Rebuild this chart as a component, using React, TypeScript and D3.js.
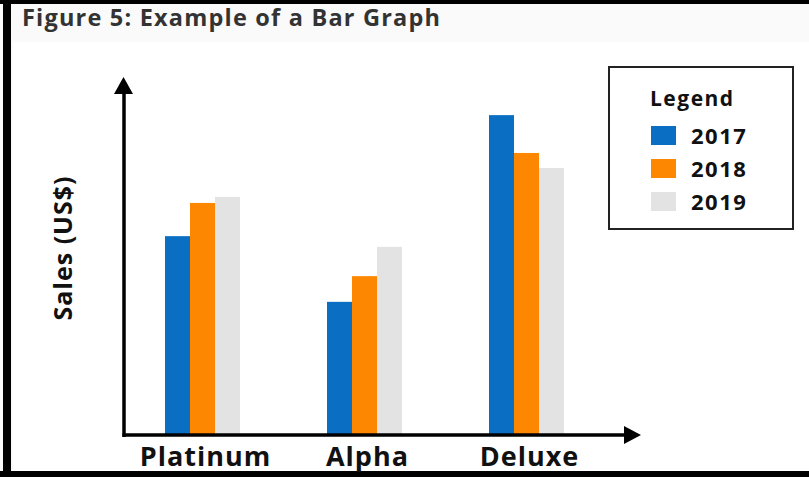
import React from "react";
import * as d3 from "d3";

const categories = ["Platinum", "Alpha", "Deluxe"];
const years = ["2017", "2018", "2019"];
const sales2017 = [55.7, 37.3, 89.6];
const sales2018 = [65, 44.5, 79];
const sales2019 = [66.7, 52.7, 74.8];
const seriesColors = ["#0a6fc2", "#fd8700", "#e3e3e3"];

const W = 809;
const H = 477;

export default function App() {
  const series = [sales2017, sales2018, sales2019];
  const x0 = d3.scaleBand<string>().domain(categories).range([124, 605]).paddingInner(0.537).paddingOuter(0.253);
  const x1 = d3.scaleBand<string>().domain(years).range([0, x0.bandwidth()]);
  const y = d3.scaleLinear().domain([0, 100]).range([435, 78]);
  const font = "'Open Sans', 'Noto Sans', sans-serif";

  return (
    <svg width={W} height={H} style={{ position: "absolute", left: 0, top: 0, background: "#fff" }}>
      <rect x={0} y={0} width={W} height={H} fill="#fafafa" />
      <rect x={13} y={42} width={W - 13} height={H - 42} fill="#ffffff" />
      {/* frame */}
      <rect x={0} y={0} width={W} height={4} fill="#000" />
      <rect x={3} y={0} width={8} height={H} fill="#000" />
      <rect x={0} y={471} width={W} height={6} fill="#000" />

      <text x={22} y={26} fontFamily={font} fontWeight={700} fontSize={23.5} letterSpacing={1.2} fill="#333">
        Figure 5: Example of a Bar Graph
      </text>

      {categories.map((c, i) =>
        years.map((yr, j) => (
          <rect
            key={c + yr}
            x={(x0(c) as number) + (x1(yr) as number)}
            y={y(series[j][i])}
            width={x1.bandwidth()}
            height={y(0) - y(series[j][i])}
            fill={seriesColors[j]}
          />
        ))
      )}

      {/* axes */}
      <line x1={124} x2={124} y1={437} y2={90} stroke="#000" strokeWidth={3.5} />
      <path d="M114,94 L123.5,77 L133,94 Z" fill="#000" />
      <line x1={122.5} x2={628} y1={435} y2={435} stroke="#000" strokeWidth={3.5} />
      <path d="M624,426 L641,435 L624,444 Z" fill="#000" />

      {categories.map((c) => (
        <text
          key={c}
          x={(x0(c) as number) + x0.bandwidth() / 2 + 3}
          y={466}
          textAnchor="middle"
          fontFamily={font}
          fontWeight={700}
          fontSize={27}
          letterSpacing={1}
          fill="#111"
        >
          {c}
        </text>
      ))}

      <text
        transform="translate(72,248) rotate(-90)"
        textAnchor="middle"
        fontFamily={font}
        fontWeight={700}
        fontSize={25}
        letterSpacing={1}
        fill="#111"
      >
        Sales (US$)
      </text>

      {/* legend */}
      <rect x={609} y={67} width={184} height={162} fill="#fff" stroke="#222" strokeWidth={2} />
      <text x={650} y={106} fontFamily={font} fontWeight={700} fontSize={21} letterSpacing={1.5} fill="#111">
        Legend
      </text>
      {years.map((yr, j) => (
        <g key={yr}>
          <rect x={651} y={126 + j * 33} width={25} height={19} fill={seriesColors[j]} />
          <text x={691} y={144 + j * 33} fontFamily={font} fontWeight={700} fontSize={22} letterSpacing={1.5} fill="#111">
            {yr}
          </text>
        </g>
      ))}
    </svg>
  );
}
